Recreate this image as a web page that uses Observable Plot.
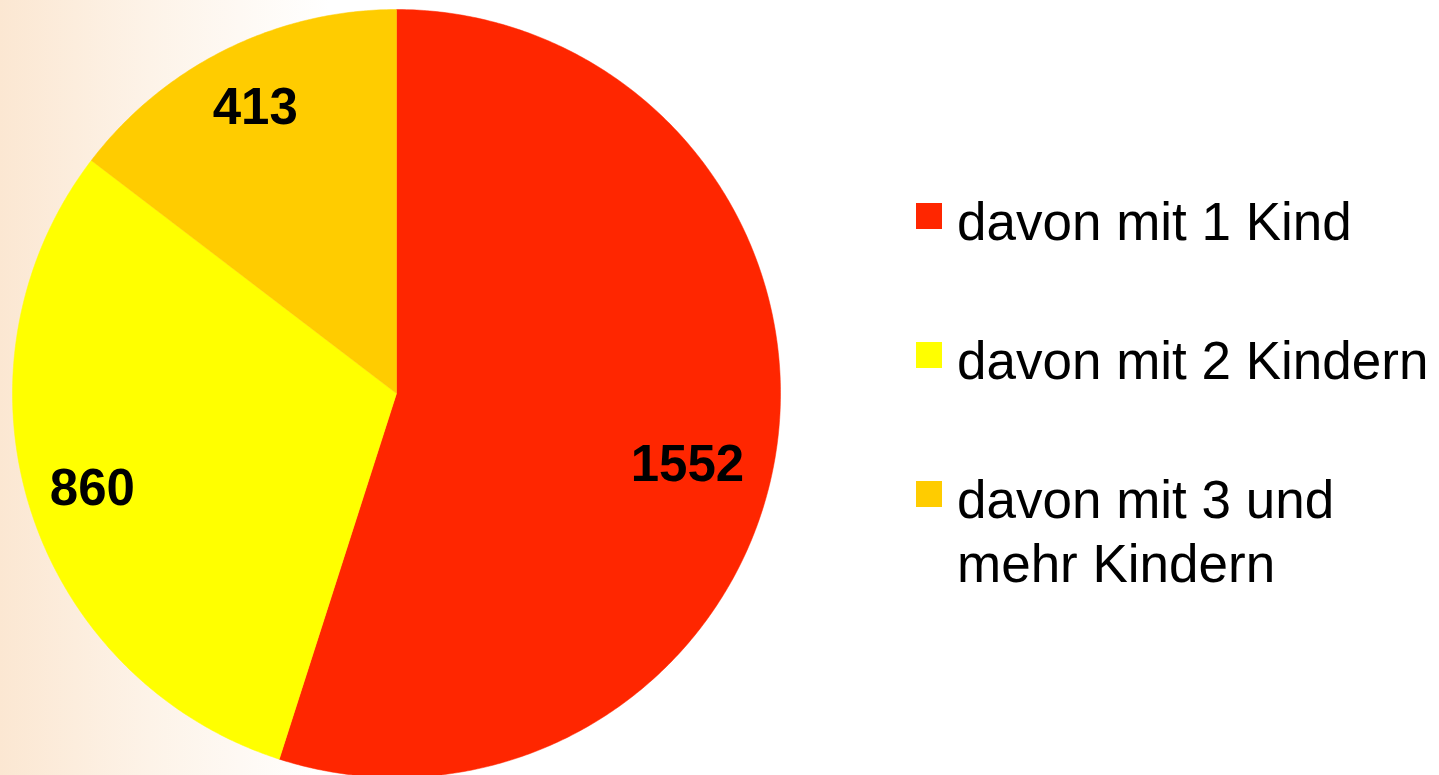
<!DOCTYPE html>
<html>
<head>
<meta charset="utf-8">
<script src="https://cdn.jsdelivr.net/npm/d3@7"></script>
<script src="https://cdn.jsdelivr.net/npm/@observablehq/plot@0.6"></script>
<style>
  html, body { margin: 0; padding: 0; }
  body {
    width: 1439px; height: 775px; overflow: hidden; position: relative;
    background: linear-gradient(to right, #fbe7d2 0px, #fdf3e8 150px, #ffffff 330px);
    font-family: "Liberation Sans", Arial, sans-serif;
  }
  #chart { position: absolute; left: 0; top: 0; }
  #legend { position: absolute; left: 916px; top: 190px; }
  .item { position: relative; padding-left: 41px; font-size: 53px; line-height: 64px; color: #000; white-space: nowrap; }
  .sw { position: absolute; left: 0; top: 13px; width: 26px; height: 26px; }
</style>
</head>
<body>
<div id="chart"></div>
<div id="legend"></div>
<script>
const categories = ["davon mit 1 Kind", "davon mit 2 Kindern", "davon mit 3 und mehr Kindern"];
const legendLines = [["davon mit 1 Kind"], ["davon mit 2 Kindern"], ["davon mit 3 und", "mehr Kindern"]];
const values = [1552, 860, 413];
const colors = ["#ff2600", "#ffff00", "#ffcc00"];

const W = 1439, H = 775;
const R = 384, CX = 396, CY = 393;

const arcs = d3.pie().sort(null).value(d => d)(values);
const data = arcs.map((a, i) => ({cat: categories[i], value: values[i], color: colors[i], a0: a.startAngle, a1: a.endAngle}));

function slicePoints(d) {
  const pts = [{x: 0, y: 0}];
  const n = Math.max(2, Math.ceil((d.a1 - d.a0) / (Math.PI / 360)));
  for (let k = 0; k <= n; k++) {
    const a = d.a0 + (d.a1 - d.a0) * k / n;
    pts.push({x: Math.sin(a), y: Math.cos(a)});
  }
  pts.push({x: 0, y: 0});
  return pts;
}

const labelR = 0.83;
const labels = data.map(d => {
  const m = (d.a0 + d.a1) / 2;
  return {x: labelR * Math.sin(m), y: labelR * Math.cos(m), text: String(d.value), cat: d.cat};
});

const marks = data.map(d => Plot.line(slicePoints(d), {x: "x", y: "y", fill: d.color, stroke: d.color, strokeWidth: 0.5, curve: "linear"}));
marks.push(Plot.text(labels.slice(0, 1), {x: "x", y: "y", text: "text", dx: -24, dy: 22, fontSize: 51, fontWeight: "bold", fill: "#000", fontFamily: "Liberation Sans, Arial, sans-serif"}));
marks.push(Plot.text(labels.slice(1), {x: "x", y: "y", text: "text", fontSize: 51, fontWeight: "bold", fill: "#000", fontFamily: "Liberation Sans, Arial, sans-serif"}));

const plot = Plot.plot({
  width: W, height: H,
  margin: 0,
  style: {background: "transparent", overflow: "visible"},
  x: {domain: [-CX / R, (W - CX) / R], range: [0, W], axis: null},
  y: {domain: [-(H - CY) / R, CY / R], range: [H, 0], axis: null},
  marks
});
document.getElementById("chart").appendChild(plot);

const legend = document.getElementById("legend");
legendLines.forEach((lines, i) => {
  const div = document.createElement("div");
  div.className = "item";
  div.style.marginBottom = i < legendLines.length - 1 ? "75px" : "0";
  const sw = document.createElement("div");
  sw.className = "sw";
  sw.style.background = colors[i];
  div.appendChild(sw);
  lines.forEach(t => { const s = document.createElement("div"); s.textContent = t; div.appendChild(s); });
  legend.appendChild(div);
});
</script>
</body>
</html>
